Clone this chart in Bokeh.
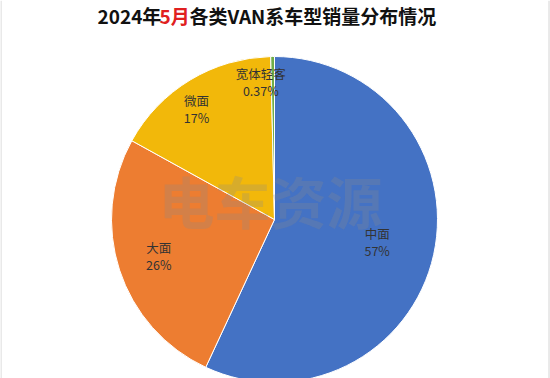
import math
from bokeh.plotting import figure
from bokeh.models import Range1d, ColumnDataSource, Span
from bokeh.core.properties import value
from bokeh.embed import file_html
from bokeh.resources import INLINE

# ---- data ----
categories = ["中面", "大面", "微面", "宽体轻客"]
shares = [56.93, 26.10, 16.60, 0.37]          # percent
colors = ["#4472C4", "#ED7D31", "#F2B80A", "#70AD47"]
title_parts = ["2024年", "5月", "各类VAN系车型销量分布情况"]
title_colors = ["#111111", "#E02020", "#111111"]
watermark = "电车资源"

# ---- layout / style ----
W, H = 550, 378
CX, CY, R = 274, H - 219, 163
label_dist = [0.645, 0.745, 0.83, 0.85]      # fraction of radius
label_turn = [0.0, 0.5, -4.0, -5.0]           # degrees adjustment (clockwise)
title_x = [97, 159, 189]

p = figure(width=W, height=H, x_range=Range1d(0, W), y_range=Range1d(0, H),
           output_backend="svg", toolbar_location=None, min_border=0)
p.axis.visible = False
p.grid.visible = False
p.outline_line_color = None
p.background_fill_color = "white"
p.border_fill_color = "white"

total = sum(shares)
starts, ends, lx, ly, labels = [], [], [], [], []
cum = 0.0
for i, s in enumerate(shares):
    a0 = math.pi / 2 - 2 * math.pi * cum / total
    mid_frac = (cum + s / 2) / total
    cum += s
    a1 = math.pi / 2 - 2 * math.pi * cum / total
    starts.append(a0)
    ends.append(a1)
    th = math.radians(mid_frac * 360 + label_turn[i])  # clockwise from top
    d = label_dist[i] * R
    lx.append(CX + d * math.sin(th))
    ly.append(CY + d * math.cos(th))
    labels.append(f"{s:.0f}%" if s >= 1 else f"{s:.2f}%")

src = ColumnDataSource(dict(start=starts, end=ends, color=colors))
p.wedge(x=CX, y=CY, radius=R, radius_units="screen", start_angle="start",
        end_angle="end", direction="clock", fill_color="color",
        line_color="white", line_width=1, source=src)

# watermark
p.text(x=[CX - 4], y=[H - 199], text=[watermark], text_font=value("Noto Sans CJK SC"),
       text_font_style="bold", text_font_size="56px", text_color="#8c8c8c",
       text_alpha=0.26, text_align="center", text_baseline="middle")

# slice labels
p.text(x=lx, y=[v + 8.5 for v in ly], text=categories, text_font=value("Noto Sans CJK SC"),
       text_font_size="12.5px", text_color="#333333", text_align="center",
       text_baseline="middle")
p.text(x=lx, y=[v - 8.5 for v in ly], text=labels, text_font=value("Noto Sans CJK SC"),
       text_font_size="12.5px", text_color="#333333", text_align="center",
       text_baseline="middle")

# title
for tx, tt, tc in zip(title_x, title_parts, title_colors):
    p.text(x=[tx], y=[H - 15], text=[tt], text_font=value("Noto Sans CJK SC"),
           text_font_style="bold", text_font_size="19px", text_color=tc,
           text_align="left", text_baseline="middle")

p.add_layout(Span(location=0.5, dimension="height", line_color="#d4d4d4", line_width=1))
p.add_layout(Span(location=548.5, dimension="height", line_color="#d4d4d4", line_width=1))

html = file_html(p, INLINE)
html = html.replace("<head>", "<head><style>html,body{margin:0;padding:0;overflow:hidden}</style>", 1)
open("out.html", "w").write(html)
